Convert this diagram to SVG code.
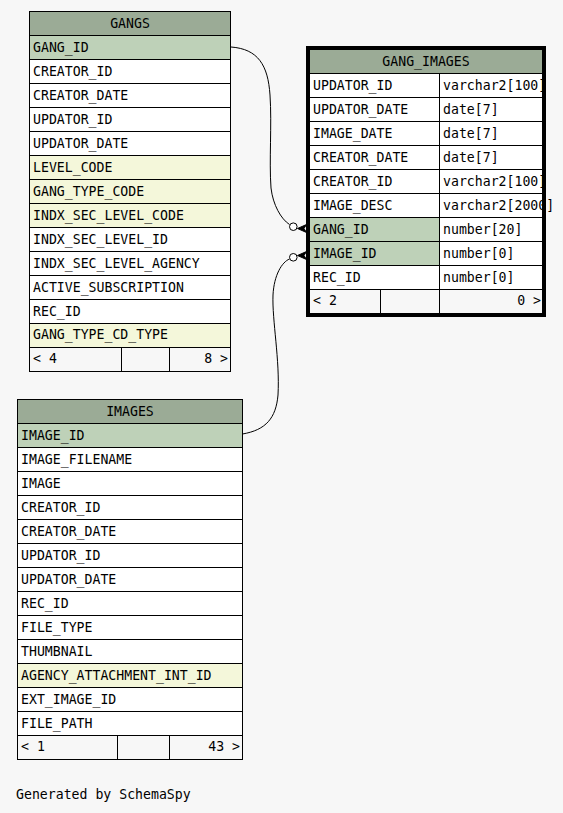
<svg xmlns="http://www.w3.org/2000/svg" width="563" height="813" viewBox="0 0 563 813">
<style>
.t{font-family:"DejaVu Sans Mono","Liberation Mono",monospace;font-size:13.2px;fill:#000}
.m{text-anchor:middle}
.e{text-anchor:end}
.h{fill:#9bab96;stroke:#000;stroke-width:1}
.k{fill:#bed1b8;stroke:#000;stroke-width:1}
.i{fill:#f4f7da;stroke:#000;stroke-width:1}
.c{fill:#ffffff;stroke:#000;stroke-width:1}
.f{fill:#f7f7f7;stroke:#000;stroke-width:1}
.l{fill:none;stroke:#000;stroke-width:1}
.o{fill:#fff;stroke:#000;stroke-width:1}
.a{fill:#000;stroke:#000;stroke-width:1}
</style>
<rect width="563" height="813" fill="#f7f7f7"/>

<g id="connectors">
<path class="l" d="M231,47 C258,49 268,65 270,95 C272,125 269,160 271,188 C273,205 281,219 289.5,224.5"/>
<circle class="o" cx="293.3" cy="226.7" r="3.8"/>
<polygon class="a" points="297.5,228.5 306.5,224.5 304,228.5 306.5,232.5"/>
<path class="l" d="M242.5,434 C266,430 276,418 278,395 C280,360 272,320 273,295 C274,275 282,262 289.5,259"/>
<circle class="o" cx="293.3" cy="257.3" r="3.8"/>
<polygon class="a" points="297.5,255.5 306.5,251.5 304,255.5 306.5,259.5"/>
</g>

<g id="GANGS">
<rect class="h" x="29.5" y="11.5" width="201" height="24"/>
<text class="t m" x="130" y="27.5">GANGS</text>
<rect class="k" x="29.5" y="35.5" width="201" height="24"/><text class="t" x="33" y="52">GANG_ID</text>
<rect class="c" x="29.5" y="59.5" width="201" height="24"/><text class="t" x="33" y="76">CREATOR_ID</text>
<rect class="c" x="29.5" y="83.5" width="201" height="24"/><text class="t" x="33" y="100">CREATOR_DATE</text>
<rect class="c" x="29.5" y="107.5" width="201" height="24"/><text class="t" x="33" y="124">UPDATOR_ID</text>
<rect class="c" x="29.5" y="131.5" width="201" height="24"/><text class="t" x="33" y="148">UPDATOR_DATE</text>
<rect class="i" x="29.5" y="155.5" width="201" height="24"/><text class="t" x="33" y="172">LEVEL_CODE</text>
<rect class="i" x="29.5" y="179.5" width="201" height="24"/><text class="t" x="33" y="196">GANG_TYPE_CODE</text>
<rect class="i" x="29.5" y="203.5" width="201" height="24"/><text class="t" x="33" y="220">INDX_SEC_LEVEL_CODE</text>
<rect class="c" x="29.5" y="227.5" width="201" height="24"/><text class="t" x="33" y="244">INDX_SEC_LEVEL_ID</text>
<rect class="c" x="29.5" y="251.5" width="201" height="24"/><text class="t" x="33" y="268">INDX_SEC_LEVEL_AGENCY</text>
<rect class="c" x="29.5" y="275.5" width="201" height="24"/><text class="t" x="33" y="292">ACTIVE_SUBSCRIPTION</text>
<rect class="c" x="29.5" y="299.5" width="201" height="24"/><text class="t" x="33" y="315.5">REC_ID</text>
<rect class="i" x="29.5" y="323.5" width="201" height="24"/><text class="t" x="33" y="339">GANG_TYPE_CD_TYPE</text>
<rect class="f" x="29.5" y="347.5" width="92" height="24"/>
<rect class="f" x="121.5" y="347.5" width="48" height="24"/>
<rect class="f" x="169.5" y="347.5" width="61" height="24"/>
<text class="t" x="33" y="363">&lt; 4</text>
<text class="t e" x="228" y="363">8 &gt;</text>
</g>

<g id="GANG_IMAGES">
<rect class="h" x="309.5" y="49.5" width="233" height="24"/>
<text class="t m" x="426" y="66">GANG_IMAGES</text>
<rect class="c" x="309.5" y="73.5" width="130" height="24"/><rect class="c" x="439.5" y="73.5" width="103" height="24"/>
<text class="t" x="313" y="90">UPDATOR_ID</text><text class="t" x="443" y="90">varchar2[100]</text>
<rect class="c" x="309.5" y="97.5" width="130" height="24"/><rect class="c" x="439.5" y="97.5" width="103" height="24"/>
<text class="t" x="313" y="114">UPDATOR_DATE</text><text class="t" x="443" y="114">date[7]</text>
<rect class="c" x="309.5" y="121.5" width="130" height="24"/><rect class="c" x="439.5" y="121.5" width="103" height="24"/>
<text class="t" x="313" y="138">IMAGE_DATE</text><text class="t" x="443" y="138">date[7]</text>
<rect class="c" x="309.5" y="145.5" width="130" height="24"/><rect class="c" x="439.5" y="145.5" width="103" height="24"/>
<text class="t" x="313" y="162">CREATOR_DATE</text><text class="t" x="443" y="162">date[7]</text>
<rect class="c" x="309.5" y="169.5" width="130" height="24"/><rect class="c" x="439.5" y="169.5" width="103" height="24"/>
<text class="t" x="313" y="186">CREATOR_ID</text><text class="t" x="443" y="186">varchar2[100]</text>
<rect class="c" x="309.5" y="193.5" width="130" height="24"/><rect class="c" x="439.5" y="193.5" width="103" height="24"/>
<text class="t" x="313" y="210">IMAGE_DESC</text><text class="t" x="443" y="210">varchar2[2000]</text>
<rect class="k" x="309.5" y="217.5" width="130" height="24"/><rect class="c" x="439.5" y="217.5" width="103" height="24"/>
<text class="t" x="313" y="234">GANG_ID</text><text class="t" x="443" y="234">number[20]</text>
<rect class="k" x="309.5" y="241.5" width="130" height="24"/><rect class="c" x="439.5" y="241.5" width="103" height="24"/>
<text class="t" x="313" y="258">IMAGE_ID</text><text class="t" x="443" y="258">number[0]</text>
<rect class="c" x="309.5" y="265.5" width="130" height="24"/><rect class="c" x="439.5" y="265.5" width="103" height="24"/>
<text class="t" x="313" y="282">REC_ID</text><text class="t" x="443" y="282">number[0]</text>
<rect class="f" x="309.5" y="289.5" width="71" height="24"/>
<rect class="f" x="380.5" y="289.5" width="59" height="24"/>
<rect class="f" x="439.5" y="289.5" width="103" height="24"/>
<text class="t" x="313" y="305">&lt; 2</text>
<text class="t e" x="541" y="305">0 &gt;</text>
<rect x="308" y="48" width="236" height="267" fill="none" stroke="#000" stroke-width="4"/>
</g>

<g id="IMAGES">
<rect class="h" x="17.5" y="399.5" width="225" height="24"/>
<text class="t m" x="130" y="415.5">IMAGES</text>
<rect class="k" x="17.5" y="423.5" width="225" height="24"/><text class="t" x="21" y="440">IMAGE_ID</text>
<rect class="c" x="17.5" y="447.5" width="225" height="24"/><text class="t" x="21" y="464">IMAGE_FILENAME</text>
<rect class="c" x="17.5" y="471.5" width="225" height="24"/><text class="t" x="21" y="488">IMAGE</text>
<rect class="c" x="17.5" y="495.5" width="225" height="24"/><text class="t" x="21" y="512">CREATOR_ID</text>
<rect class="c" x="17.5" y="519.5" width="225" height="24"/><text class="t" x="21" y="536">CREATOR_DATE</text>
<rect class="c" x="17.5" y="543.5" width="225" height="24"/><text class="t" x="21" y="560">UPDATOR_ID</text>
<rect class="c" x="17.5" y="567.5" width="225" height="24"/><text class="t" x="21" y="584">UPDATOR_DATE</text>
<rect class="c" x="17.5" y="591.5" width="225" height="24"/><text class="t" x="21" y="608">REC_ID</text>
<rect class="c" x="17.5" y="615.5" width="225" height="24"/><text class="t" x="21" y="632">FILE_TYPE</text>
<rect class="c" x="17.5" y="639.5" width="225" height="24"/><text class="t" x="21" y="656">THUMBNAIL</text>
<rect class="i" x="17.5" y="663.5" width="225" height="24"/><text class="t" x="21" y="680">AGENCY_ATTACHMENT_INT_ID</text>
<rect class="c" x="17.5" y="687.5" width="225" height="24"/><text class="t" x="21" y="704">EXT_IMAGE_ID</text>
<rect class="c" x="17.5" y="711.5" width="225" height="24"/><text class="t" x="21" y="728">FILE_PATH</text>
<rect class="f" x="17.5" y="735.5" width="100" height="24"/>
<rect class="f" x="117.5" y="735.5" width="52" height="24"/>
<rect class="f" x="169.5" y="735.5" width="73" height="24"/>
<text class="t" x="21" y="751">&lt; 1</text>
<text class="t e" x="240" y="751">43 &gt;</text>
</g>

<text class="t" x="16" y="798.5">Generated by SchemaSpy</text>
</svg>
